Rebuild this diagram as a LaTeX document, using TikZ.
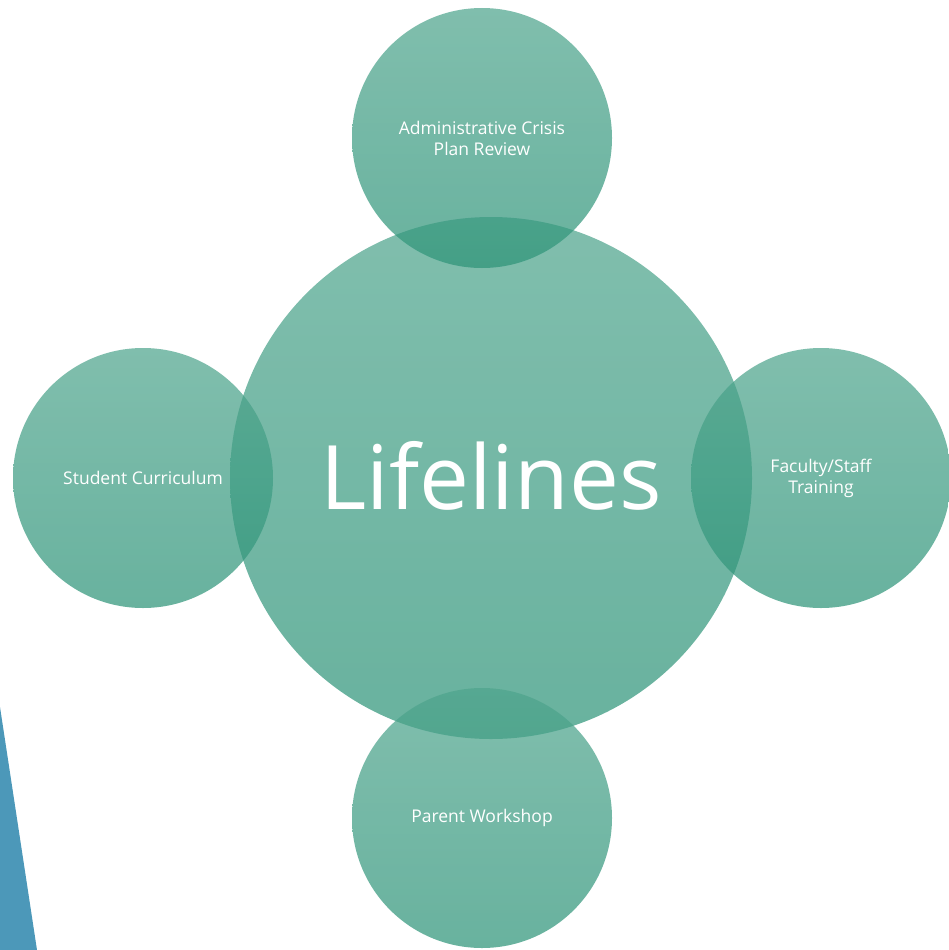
\documentclass[tikz,border=0pt]{standalone}
\usepackage{fontspec}
\setmainfont{Open Sans}
\usetikzlibrary{positioning}
\definecolor{tealbase}{HTML}{2E9479}
\definecolor{teallight}{HTML}{4FA58D}
\definecolor{wedgeblue}{HTML}{4C98B9}

\begin{document}
\begin{tikzpicture}[x=1pt,y=-1pt,
  bubble/.style={circle, inner sep=0pt, top color=teallight, bottom color=tealbase,
    fill opacity=0.72, text opacity=1, text=white, align=center, font=\fontsize{17.5}{21}\selectfont},
  small/.style={bubble, minimum size=260pt},
  big/.style={bubble, minimum size=522pt, font=\fontsize{89}{95}\selectfont}]

  \useasboundingbox (0,0) rectangle (948,950);

  \fill[wedgeblue] (0,707) -- (37,950) -- (0,950) -- cycle; % side wedge

  \node[big] (lifelines) at (491,478) {\raisebox{6pt}{Lifelines}}; % centre
  \node[small] (admin) at (482,138) {Administrative Crisis\\Plan Review}; % top
  \node[small] (student) at (143,478) {Student Curriculum}; % left
  \node[small] (faculty) at (821,478) {Faculty/Staff\\Training}; % right
  \node[small] (parent) at (482,818) {Parent Workshop}; % bottom

\end{tikzpicture}
\end{document}
